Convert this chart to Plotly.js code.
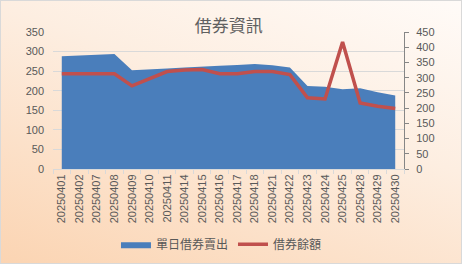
<!DOCTYPE html>
<html>
<head>
<meta charset="utf-8">
<script src="https://cdn.plot.ly/plotly-3.0.1.min.js"></script>
<style>
html,body{margin:0;padding:0;}
#chart{width:462px;height:264px;box-shadow:inset 0 0 0 1px #d9d9d9;
background:linear-gradient(200deg,#fffbf8 0%,#fdeee1 40%,#fbd4b2 100%);}
</style>
</head>
<body>
<div id="chart"></div>
<script>
const dates = ["20250401","20250402","20250407","20250408","20250409","20250410","20250411","20250414","20250415","20250416","20250417","20250418","20250421","20250422","20250423","20250424","20250425","20250428","20250429","20250430"];
const dailySell = [288,290,292,294,252,255,257,259,262,264,266,268,265,259,212,210,204,206,196,188];
const balance = [313,313,313,313,273,298,320,325,327,313,313,320,320,310,234,230,417,217,206,199];
const seriesNames = ["單日借券賣出","借券餘額"];

const gray = "#595959";
const traces = [
  {x: dates, y: dailySell, name: seriesNames[0], type: "scatter", mode: "lines",
   fill: "tozeroy", fillcolor: "#4a7ebb", line: {width: 0, color: "#4a7ebb"}, yaxis: "y"},
  {x: dates, y: balance, name: seriesNames[1], type: "scatter", mode: "lines",
   line: {width: 3.5, color: "#c0504d"}, yaxis: "y2"}
];
const layout = {
  width: 462, height: 264,
  margin: {l: 53, r: 58, t: 32, b: 95},
  paper_bgcolor: "rgba(0,0,0,0)", plot_bgcolor: "rgba(0,0,0,0)",
  font: {family: "'Liberation Sans', 'Noto Sans CJK TC', sans-serif", color: gray, size: 11},
  title: {text: "借券資訊", font: {family: "'Noto Sans CJK TC', sans-serif", size: 17, color: "#606060"},
          x: 0.495, xanchor: "center", y: 0.9, yanchor: "middle", yref: "container"},
  showlegend: true,
  legend: {orientation: "h", x: 0.48, xanchor: "center", y: 0.075, yanchor: "middle", yref: "container",
           font: {family: "'Noto Sans CJK TC', sans-serif", size: 12, color: gray},
           bgcolor: "rgba(0,0,0,0)", itemwidth: 30},
  xaxis: {type: "category", range: [-0.5, 19.5], tickangle: -90, showline: true, automargin: false,
          linecolor: "#d9d9d9", ticks: "outside", tickson: "boundaries", ticklen: 4,
          tickcolor: "#d9d9d9", showgrid: false, tickfont: {size: 11, color: gray}, fixedrange: true},
  yaxis: {range: [0, 350], dtick: 50, showgrid: true, gridcolor: "#d9d9d9", zeroline: false, automargin: false,
          showline: false, ticks: "", ticklabelstandoff: 8, tickfont: {size: 11, color: gray}},
  yaxis2: {range: [0, 450], dtick: 50, overlaying: "y", side: "right", showgrid: false, zeroline: false, automargin: false,
           showline: true, linecolor: "#868686", ticks: "outside", ticklen: 4, tickcolor: "#868686",
           ticklabelstandoff: 5, tickfont: {size: 11, color: gray}}
};
Plotly.newPlot("chart", traces, layout, {displayModeBar: false, staticPlot: true});
</script>
</body>
</html>
